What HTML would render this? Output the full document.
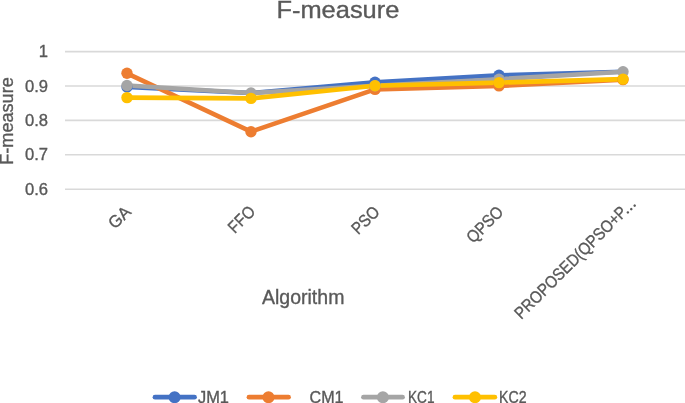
<!DOCTYPE html>
<html><head><meta charset="utf-8"><style>
html,body{margin:0;padding:0;background:#fff;}
body{width:685px;height:403px;overflow:hidden;}
svg{display:block;will-change:transform;}
text{font-family:"Liberation Sans",sans-serif;fill:#595959;stroke:#595959;stroke-width:0.35px;}
</style></head><body>
<svg width="685" height="403" viewBox="0 0 685 403">
<rect width="685" height="403" fill="#fff"/>
<!-- title -->
<text x="276.4" y="18.4" font-size="24.6" textLength="123" lengthAdjust="spacingAndGlyphs">F-measure</text>
<!-- gridlines -->
<g stroke="#d9d9d9" stroke-width="1.6" fill="none">
<line x1="65" y1="51.6" x2="685" y2="51.6"/>
<line x1="65" y1="86" x2="685" y2="86"/>
<line x1="65" y1="120.4" x2="685" y2="120.4"/>
<line x1="65" y1="154.8" x2="685" y2="154.8"/>
<line x1="65" y1="189.2" x2="685" y2="189.2"/>
</g>
<!-- y labels -->
<g font-size="16.6" text-anchor="end">
<text x="48" y="57.1">1</text>
<text x="48" y="91.5">0.9</text>
<text x="48" y="125.9">0.8</text>
<text x="48" y="160.3">0.7</text>
<text x="48" y="194.7">0.6</text>
</g>
<!-- y title -->
<text transform="translate(13.4,164.8) rotate(-90)" font-size="18.5" textLength="87.6" lengthAdjust="spacingAndGlyphs">F-measure</text>
<!-- series -->
<g fill="none" stroke-width="4.6" stroke-linejoin="round" stroke-linecap="round">
<polyline stroke="#4472c4" points="127,87 251,93 375,82.3 499,75.3 623,71.8"/>
<polyline stroke="#ed7d31" points="127,73.3 251,131.7 375,89.4 499,85.9 623,79.6"/>
<polyline stroke="#a5a5a5" points="127,85.45 251,93 375,85.8 499,79.2 623,71.8"/>
<polyline stroke="#ffc000" points="127,97.6 251,98.4 375,85.8 499,82.6 623,79.1"/>
</g>
<g fill="#4472c4"><circle cx="127" cy="87" r="5.7"/><circle cx="251" cy="93" r="5"/><circle cx="375" cy="82.3" r="5.7"/><circle cx="499" cy="75.3" r="5.7"/><circle cx="623" cy="71.8" r="5"/></g>
<g fill="#ed7d31"><circle cx="127" cy="73.3" r="5.7"/><circle cx="251" cy="131.7" r="5.7"/><circle cx="375" cy="89.4" r="5.7"/><circle cx="499" cy="85.9" r="5.7"/><circle cx="623" cy="79.6" r="5.7"/></g>
<g fill="#a5a5a5"><circle cx="127" cy="85.45" r="5.7"/><circle cx="251" cy="93" r="5.7"/><circle cx="375" cy="85.8" r="5.7"/><circle cx="499" cy="79.2" r="5.7"/><circle cx="623" cy="71.8" r="5.7"/></g>
<g fill="#ffc000"><circle cx="127" cy="97.6" r="5.7"/><circle cx="251" cy="98.4" r="5.7"/><circle cx="375" cy="85.8" r="5.7"/><circle cx="499" cy="82.6" r="5.7"/><circle cx="623" cy="79.1" r="5.7"/></g>
<!-- x labels rotated -45 -->
<g font-size="17" text-anchor="end">
<text transform="translate(132,212.8) rotate(-45)" textLength="24" lengthAdjust="spacingAndGlyphs">GA</text>
<text transform="translate(256.3,212.6) rotate(-45)" textLength="30.5" lengthAdjust="spacingAndGlyphs">FFO</text>
<text transform="translate(380.6,213) rotate(-45)" textLength="31.5" lengthAdjust="spacingAndGlyphs">PSO</text>
<text transform="translate(504.4,213) rotate(-45)" textLength="44" lengthAdjust="spacingAndGlyphs">QPSO</text>
<g transform="translate(637,204.2) rotate(-45)"><text x="-12.6" textLength="151" lengthAdjust="spacingAndGlyphs">PROPOSED(QPSO+P</text><g fill="#595959"><circle cx="-12.3" cy="-0.6" r="1.25"/><circle cx="-7.5" cy="-0.6" r="1.25"/><circle cx="-2.7" cy="-0.6" r="1.25"/></g></g>
</g>
<!-- x title -->
<text x="262" y="303.7" font-size="20" textLength="82.4" lengthAdjust="spacingAndGlyphs">Algorithm</text>
<!-- legend -->
<g stroke-width="4.8" stroke-linecap="round">
<line x1="155" y1="397.2" x2="194.5" y2="397.2" stroke="#4472c4"/>
<line x1="249" y1="397.2" x2="288.5" y2="397.2" stroke="#ed7d31"/>
<line x1="363.5" y1="397.2" x2="402.5" y2="397.2" stroke="#a5a5a5"/>
<line x1="455" y1="397.2" x2="494.8" y2="397.2" stroke="#ffc000"/>
</g>
<circle cx="174.6" cy="397.2" r="6" fill="#4472c4"/>
<circle cx="268.5" cy="397.2" r="6" fill="#ed7d31"/>
<circle cx="382.9" cy="397.2" r="6" fill="#a5a5a5"/>
<circle cx="475" cy="397.2" r="6" fill="#ffc000"/>
<g font-size="16">
<text x="198" y="402.5" textLength="31" lengthAdjust="spacingAndGlyphs">JM1</text>
<text x="309.5" y="402.5" textLength="34" lengthAdjust="spacingAndGlyphs">CM1</text>
<text x="408" y="402.5" textLength="26.5" lengthAdjust="spacingAndGlyphs">KC1</text>
<text x="499" y="402.5" textLength="27.5" lengthAdjust="spacingAndGlyphs">KC2</text>
</g>
</svg>
</body></html>
